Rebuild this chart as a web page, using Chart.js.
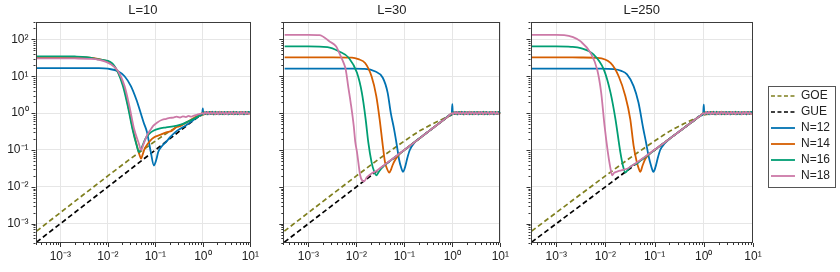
<!DOCTYPE html>
<html>
<head>
<meta charset="utf-8">
<script src="https://cdn.jsdelivr.net/npm/chart.js@4.4.0/dist/chart.umd.min.js"></script>
<style>
  html, body { margin: 0; padding: 0; background: #fff; }
  #wrap { position: relative; width: 840px; height: 272px; }
  canvas { position: absolute; top: 0; }
</style>
</head>
<body>
<div id="wrap">
  <canvas id="c1" width="265" height="272" style="left:0px"></canvas>
  <canvas id="c2" width="245" height="272" style="left:270px"></canvas>
  <canvas id="c3" width="320" height="272" style="left:520px"></canvas>
</div>
<script>
// panel titles and legend names
const panelTitles = ['L=10', 'L=30', 'L=250'];
const seriesNames = ['GOE', 'GUE', 'N=12', 'N=14', 'N=16', 'N=18'];

// tick labels (log axes)
const xTickVals = [1e-3, 1e-2, 1e-1, 1, 10];
const xTickText = ['10⁻³', '10⁻²', '10⁻¹', '10⁰', '10¹'];
const yTickVals = [1e-3, 1e-2, 1e-1, 1, 10, 100];
const yTickText = ['10⁻³', '10⁻²', '10⁻¹', '10⁰', '10¹', '10²'];

// random matrix reference curves
const goeT = [3.16e-4, 1e-3, 3e-3, 0.01, 0.03, 0.06, 0.1, 0.15, 0.2, 0.3, 0.4, 0.5, 0.6, 0.7, 0.8, 0.9, 1.0, 1.2, 1.5, 2, 3, 5, 10];
const goeK = [6.3e-4, 2e-3, 6e-3, 0.0198, 0.058, 0.11, 0.175, 0.25, 0.32, 0.43, 0.52, 0.6, 0.67, 0.74, 0.8, 0.85, 0.9, 0.94, 0.97, 0.985, 0.994, 0.998, 1.0];
const gueT = [3.16e-4, 1, 10];
const gueK = [3.16e-4, 1, 1];

// noisy plateau after t = 1
const tailT = [1.05, 1.12, 1.2, 1.28, 1.37, 1.47, 1.58, 1.7, 1.83, 1.97, 2.12, 2.28, 2.45, 2.64, 2.84, 3.05, 3.28, 3.53, 3.8, 4.09, 4.4, 4.73, 5.09, 5.48, 5.9, 6.35, 6.83, 7.35, 7.91, 8.51, 9.16, 10];
const tail12 = [1.04, 0.94, 1.08, 0.93, 1.06, 0.95, 1.09, 0.92, 1.05, 0.96, 1.07, 0.93, 1.06, 0.94, 1.08, 0.95, 1.05, 0.92, 1.07, 0.96, 1.06, 0.93, 1.08, 0.94, 1.05, 0.95, 1.07, 0.93, 1.06, 0.96, 1.08, 1.0];
const tail14 = [0.95, 1.07, 0.93, 1.06, 0.96, 1.08, 0.94, 1.05, 0.92, 1.07, 0.95, 1.09, 0.94, 1.06, 0.93, 1.05, 0.96, 1.08, 0.94, 1.06, 0.92, 1.07, 0.95, 1.05, 0.93, 1.08, 0.96, 1.06, 0.94, 1.07, 0.95, 1.01];
const tail16 = [1.07, 0.94, 1.05, 0.92, 1.08, 0.96, 1.06, 0.93, 1.09, 0.95, 1.05, 0.94, 1.07, 0.92, 1.06, 0.96, 1.08, 0.93, 1.05, 0.95, 1.09, 0.94, 1.06, 0.92, 1.07, 0.96, 1.05, 0.93, 1.08, 0.95, 1.06, 1.0];
const tail18 = [0.94, 1.06, 0.96, 1.08, 0.93, 1.05, 0.95, 1.07, 0.94, 1.06, 0.92, 1.08, 0.96, 1.05, 0.94, 1.07, 0.93, 1.06, 0.95, 1.08, 0.94, 1.05, 0.96, 1.07, 0.93, 1.06, 0.95, 1.08, 0.94, 1.05, 0.96, 1.0];

// L = 10
const t10n12 = [3.2e-4, 1e-3, 3e-3, 0.0065, 0.01, 0.0165, 0.0225, 0.0306, 0.04, 0.0488, 0.057, 0.0665, 0.08, 0.0935, 0.105, 0.115, 0.14, 0.169, 0.21, 0.268, 0.34, 0.43, 0.55, 0.68, 0.85, 0.97, 1.0, 1.02];
const k10n12 = [16.7, 16.7, 16.7, 16.6, 16, 13.7, 10, 5.4, 2.3, 1.04, 0.55, 0.31, 0.09, 0.038, 0.055, 0.088, 0.13, 0.166, 0.23, 0.31, 0.38, 0.456, 0.57, 0.69, 0.85, 0.95, 1.35, 0.96];
const t10n14 = [3.2e-4, 1e-3, 2e-3, 4e-3, 0.0065, 0.0115, 0.0165, 0.0215, 0.027, 0.034, 0.041, 0.047, 0.05, 0.054, 0.06, 0.07, 0.085, 0.1, 0.13, 0.17, 0.22, 0.27, 0.34, 0.43, 0.55, 0.68, 0.85, 1.0];
const k10n14 = [33, 33, 32.8, 32, 29, 23, 13, 5.4, 1.5, 0.35, 0.13, 0.07, 0.058, 0.075, 0.11, 0.15, 0.2, 0.23, 0.26, 0.3, 0.33, 0.41, 0.45, 0.54, 0.65, 0.77, 0.9, 1.0];
const t10n16 = [3.2e-4, 1e-3, 2e-3, 3.5e-3, 0.0065, 0.0121, 0.0165, 0.0208, 0.0262, 0.033, 0.0405, 0.045, 0.052, 0.0615, 0.075, 0.091, 0.12, 0.169, 0.268, 0.37, 0.5, 0.68, 0.85, 1.0];
const k10n16 = [34.7, 34.7, 34.3, 33, 28.5, 23, 12.4, 5.4, 1.57, 0.37, 0.132, 0.088, 0.12, 0.2, 0.28, 0.334, 0.38, 0.41, 0.45, 0.5, 0.6, 0.72, 0.86, 1.0];
const t10n18 = [3.2e-4, 1e-3, 2e-3, 4e-3, 0.0065, 0.011, 0.0165, 0.0225, 0.0284, 0.0358, 0.045, 0.05, 0.056, 0.0665, 0.08, 0.091, 0.11, 0.14, 0.17, 0.2, 0.24, 0.28, 0.33, 0.38, 0.44, 0.5, 0.57, 0.65, 0.75, 0.87, 1.0];
const k10n18 = [30.6, 30.6, 30.4, 29.8, 28, 22, 13.7, 5.4, 1.57, 0.37, 0.15, 0.1, 0.14, 0.245, 0.36, 0.456, 0.56, 0.66, 0.7, 0.74, 0.76, 0.8, 0.76, 0.82, 0.78, 0.84, 0.8, 0.86, 0.9, 0.95, 1.0];

// L = 30
const t30n12 = [3.2e-4, 1e-3, 3e-3, 0.008, 0.015, 0.0241, 0.0355, 0.0448, 0.0522, 0.061, 0.07, 0.077, 0.086, 0.094, 0.104, 0.115, 0.13, 0.165, 0.22, 0.3, 0.4, 0.52, 0.68, 0.85, 0.97, 1.0, 1.02];
const k30n12 = [16.2, 16.2, 16.2, 16.1, 15.8, 13.7, 9.1, 3.6, 1.0, 0.37, 0.13, 0.058, 0.033, 0.0255, 0.035, 0.06, 0.1, 0.163, 0.22, 0.3, 0.4, 0.52, 0.68, 0.85, 0.96, 1.75, 0.97];
const t30n14 = [3.2e-4, 1e-3, 3e-3, 0.0081, 0.011, 0.0152, 0.0207, 0.026, 0.0305, 0.0355, 0.0395, 0.044, 0.0484, 0.053, 0.0565, 0.065, 0.08, 0.1, 0.13, 0.17, 0.22, 0.3, 0.4, 0.52, 0.68, 0.85, 1.0];
const k30n14 = [32.6, 32.6, 32.5, 32, 29, 23, 10, 2.9, 0.69, 0.132, 0.047, 0.03, 0.0244, 0.03, 0.038, 0.055, 0.078, 0.1, 0.13, 0.17, 0.22, 0.3, 0.4, 0.52, 0.68, 0.85, 1.0];
const t30n16 = [3.2e-4, 1e-3, 2.5e-3, 0.0044, 0.007, 0.0103, 0.013, 0.0156, 0.0177, 0.0207, 0.0235, 0.026, 0.029, 0.0328, 0.04, 0.05, 0.065, 0.085, 0.11, 0.15, 0.2, 0.28, 0.38, 0.52, 0.7, 0.85, 1.0];
const k30n16 = [64.5, 64.5, 62, 47, 31.4, 12.4, 3.6, 0.69, 0.163, 0.047, 0.026, 0.0206, 0.025, 0.031, 0.04, 0.05, 0.065, 0.085, 0.11, 0.15, 0.2, 0.28, 0.38, 0.52, 0.7, 0.86, 1.0];
const t30n18 = [3.2e-4, 1e-3, 1.7e-3, 2.76e-3, 0.0038, 0.0044, 0.0055, 0.006, 0.0068, 0.0076, 0.0088, 0.0095, 0.0103, 0.012, 0.0135, 0.0145, 0.0165, 0.0207, 0.026, 0.033, 0.042, 0.055, 0.07, 0.09, 0.12, 0.16, 0.21, 0.28, 0.37, 0.5, 0.65, 0.8, 1.0];
const k30n18 = [133, 133, 131, 88, 64, 42.8, 22, 15.2, 5, 1.94, 0.456, 0.163, 0.088, 0.0206, 0.0145, 0.0142, 0.018, 0.023, 0.027, 0.034, 0.043, 0.056, 0.071, 0.091, 0.12, 0.16, 0.21, 0.28, 0.37, 0.5, 0.65, 0.8, 1.0];

// L = 250
const t250n12 = [3.2e-4, 1e-3, 3e-3, 0.0068, 0.0148, 0.021, 0.0275, 0.0374, 0.047, 0.059, 0.067, 0.075, 0.085, 0.0946, 0.104, 0.115, 0.13, 0.16, 0.2, 0.28, 0.38, 0.52, 0.68, 0.85, 0.97, 1.0, 1.02];
const k250n12 = [16.2, 16.2, 16.2, 16.1, 15.6, 14, 11.2, 5.4, 1.94, 0.37, 0.16, 0.071, 0.037, 0.0255, 0.034, 0.058, 0.1, 0.15, 0.2, 0.28, 0.38, 0.52, 0.68, 0.85, 0.96, 1.7, 0.97];
const t250n14 = [3.2e-4, 1e-3, 3.2e-3, 0.0068, 0.0127, 0.0186, 0.0254, 0.032, 0.0374, 0.043, 0.047, 0.051, 0.057, 0.065, 0.08, 0.1, 0.13, 0.17, 0.22, 0.3, 0.4, 0.52, 0.68, 0.85, 1.0];
const k250n14 = [32.6, 32.6, 32.3, 31.5, 23, 10, 2.9, 0.69, 0.132, 0.05, 0.033, 0.0255, 0.038, 0.058, 0.08, 0.1, 0.13, 0.17, 0.22, 0.3, 0.4, 0.52, 0.68, 0.85, 1.0];
const t250n16 = [3.2e-4, 1e-3, 2e-3, 3.15e-3, 0.0058, 0.0093, 0.0127, 0.016, 0.0201, 0.023, 0.0254, 0.028, 0.032, 0.038, 0.044, 0.055, 0.07, 0.09, 0.12, 0.16, 0.22, 0.3, 0.4, 0.52, 0.68, 0.85, 1.0];
const k250n16 = [64.5, 64.5, 63, 58, 38.5, 15.2, 3.6, 0.69, 0.088, 0.035, 0.0244, 0.028, 0.035, 0.04, 0.043, 0.055, 0.07, 0.09, 0.12, 0.16, 0.22, 0.3, 0.4, 0.52, 0.68, 0.85, 1.0];
const t250n18 = [3.2e-4, 1e-3, 1.45e-3, 2.2e-3, 3.15e-3, 0.005, 0.0068, 0.0082, 0.0096, 0.0112, 0.0125, 0.0137, 0.015, 0.0173, 0.021, 0.0275, 0.034, 0.045, 0.06, 0.08, 0.11, 0.15, 0.2, 0.28, 0.38, 0.52, 0.7, 0.85, 1.0];
const k250n18 = [133, 133, 131, 115, 88, 42.8, 15.2, 3.6, 0.456, 0.088, 0.035, 0.0206, 0.024, 0.026, 0.028, 0.031, 0.037, 0.047, 0.062, 0.082, 0.112, 0.15, 0.2, 0.28, 0.38, 0.52, 0.7, 0.85, 1.0];

const colors = ['#7f7f1e', '#000000', '#0072b2', '#d55e00', '#009e73', '#cc79a7'];

Chart.defaults.font.family = '"Liberation Sans", Arial, sans-serif';
Chart.defaults.font.size = 12;
Chart.defaults.color = '#222';

function pts(t, k) {
  return t.map((x, i) => ({ x: x, y: k[i] }));
}

function buildSets(series) {
  const tails = [tail12, tail14, tail16, tail18];
  const sets = [
    { label: seriesNames[0], data: pts(goeT, goeK), borderColor: colors[0], borderDash: [5, 3], borderWidth: 1.7, order: 6 },
    { label: seriesNames[1], data: pts(gueT, gueK), borderColor: colors[1], borderDash: [5, 3], borderWidth: 1.7, order: 5 }
  ];
  series.forEach((s, i) => {
    sets.push({
      label: seriesNames[i + 2],
      data: pts(s[0].concat(tailT), s[1].concat(tails[i])),
      borderColor: colors[i + 2],
      borderWidth: 1.8,
      cubicInterpolationMode: 'monotone',
      order: 4 - i
    });
  });
  sets.forEach(d => { d.pointRadius = 0; d.backgroundColor = d.borderColor; });
  return sets;
}

// minor + major ticks for each decade
function logTicks(scale) {
  const out = [];
  for (let e = -4; e <= 2; e++) {
    for (let m = 1; m <= 9; m++) {
      const v = m * Math.pow(10, e);
      if (v >= scale.min * 0.999 && v <= scale.max * 1.001) out.push({ value: v, major: m === 1 });
    }
  }
  scale.ticks = out;
}

function labelFor(vals, text) {
  return function (value) {
    for (let j = 0; j < vals.length; j++) {
      if (Math.abs(Math.log10(value) - Math.log10(vals[j])) < 1e-6) return text[j];
    }
    return '';
  };
}

const gridCol = ctx => (ctx.tick && ctx.tick.major ? '#e6e6e6' : 'rgba(0,0,0,0)');

// outward tick marks + frame
const tickMarks = {
  id: 'tickMarks',
  afterDraw(chart) {
    const ctx = chart.ctx, a = chart.chartArea;
    const xs = chart.scales.x, ys = chart.scales.y;
    ctx.save();
    ctx.strokeStyle = '#333';
    ctx.lineWidth = 1;
    ctx.beginPath();
    xs.ticks.forEach(t => {
      const p = Math.round(xs.getPixelForValue(t.value)) + 0.5;
      ctx.moveTo(p, a.bottom);
      ctx.lineTo(p, a.bottom + (t.major ? 4 : 2));
    });
    ys.ticks.forEach(t => {
      const p = Math.round(ys.getPixelForValue(t.value)) + 0.5;
      ctx.moveTo(a.left, p);
      ctx.lineTo(a.left - (t.major ? 4 : 2), p);
    });
    ctx.stroke();
    ctx.strokeStyle = '#3c3c3c';
    ctx.strokeRect(Math.round(a.left) + 0.5, Math.round(a.top) + 0.5, Math.round(a.right - a.left) - 1, Math.round(a.bottom - a.top) - 1);
    ctx.restore();
  }
};

const legendFrame = {
  id: 'legendFrame',
  afterDraw(chart) {
    const boxes = chart.legend.legendHitBoxes;
    let l = Infinity, r = -Infinity, t = Infinity, b = -Infinity;
    boxes.forEach(h => {
      l = Math.min(l, h.left); r = Math.max(r, h.left + h.width);
      t = Math.min(t, h.top); b = Math.max(b, h.top + h.height);
    });
    const ctx = chart.ctx;
    ctx.save();
    ctx.strokeStyle = '#555';
    ctx.lineWidth = 1;
    ctx.strokeRect(Math.round(l - 3) + 0.5, Math.round(t - 4) + 0.5, Math.round(r - l + 8), Math.round(b - t + 9));
    ctx.restore();
  }
};

// legend items keep the dataset's dash pattern
function legendLabels(chart) {
  const items = Chart.defaults.plugins.legend.labels.generateLabels(chart);
  items.forEach(it => {
    const ds = chart.data.datasets[it.datasetIndex];
    it.lineDash = ds.borderDash ? [4, 2.5] : [];
    it.lineWidth = ds.borderWidth;
  });
  return items;
}

function makeChart(id, title, series, cfg) {
  const scales = {
    x: {
      type: 'logarithmic', min: Math.pow(10, -3.5), max: 10,
      border: { display: false },
      grid: { drawTicks: false, color: gridCol },
      ticks: { autoSkip: false, maxRotation: 0, padding: 6, callback: labelFor(xTickVals, xTickText) },
      afterBuildTicks: logTicks,
      afterFit: s => { s.height = 29; }
    },
    y: {
      type: 'logarithmic', min: 3.3e-4, max: 300,
      border: { display: false },
      grid: { drawTicks: false, color: gridCol },
      ticks: { display: cfg.yLabels, autoSkip: false, padding: 7, callback: labelFor(yTickVals, yTickText) },
      afterBuildTicks: logTicks,
      afterFit: s => { s.width = cfg.yWidth; }
    }
  };
  if (cfg.legend) {
    scales.pad = {
      type: 'linear', position: 'right', display: true,
      grid: { display: false, drawTicks: false }, border: { display: false },
      ticks: { display: false },
      afterFit: s => { s.width = 14; }
    };
  }
  return new Chart(document.getElementById(id), {
    type: 'line',
    data: { datasets: buildSets(series) },
    options: {
      responsive: false, animation: false, devicePixelRatio: 1,
      layout: { padding: { right: cfg.padRight } },
      plugins: {
        title: { display: true, text: title, fullSize: false, color: '#222', font: { size: 13, weight: 'normal', lineHeight: 1.1 }, padding: { top: 3, bottom: 4.5 } },
        legend: cfg.legend ? {
          display: true, position: 'right', align: 'center', maxWidth: 100,
          labels: {
            usePointStyle: true, pointStyle: 'line', pointStyleWidth: 24, padding: 4,
            color: '#222', font: { size: 12 },
            generateLabels: legendLabels,
            sort: (a, b) => a.datasetIndex - b.datasetIndex
          }
        } : { display: false },
        tooltip: { enabled: false }
      },
      scales: scales
    },
    plugins: cfg.legend ? [tickMarks, legendFrame] : [tickMarks]
  });
}

makeChart('c1', panelTitles[0], [[t10n12, k10n12], [t10n14, k10n14], [t10n16, k10n16], [t10n18, k10n18]],
  { yLabels: true, yWidth: 35.5, padRight: 7, legend: false });
makeChart('c2', panelTitles[1], [[t30n12, k30n12], [t30n14, k30n14], [t30n16, k30n16], [t30n18, k30n18]],
  { yLabels: false, yWidth: 13.3, padRight: 8.3, legend: false });
makeChart('c3', panelTitles[2], [[t250n12, k250n12], [t250n14, k250n14], [t250n16, k250n16], [t250n18, k250n18]],
  { yLabels: false, yWidth: 10.5, padRight: 0, legend: true });
</script>
</body>
</html>
